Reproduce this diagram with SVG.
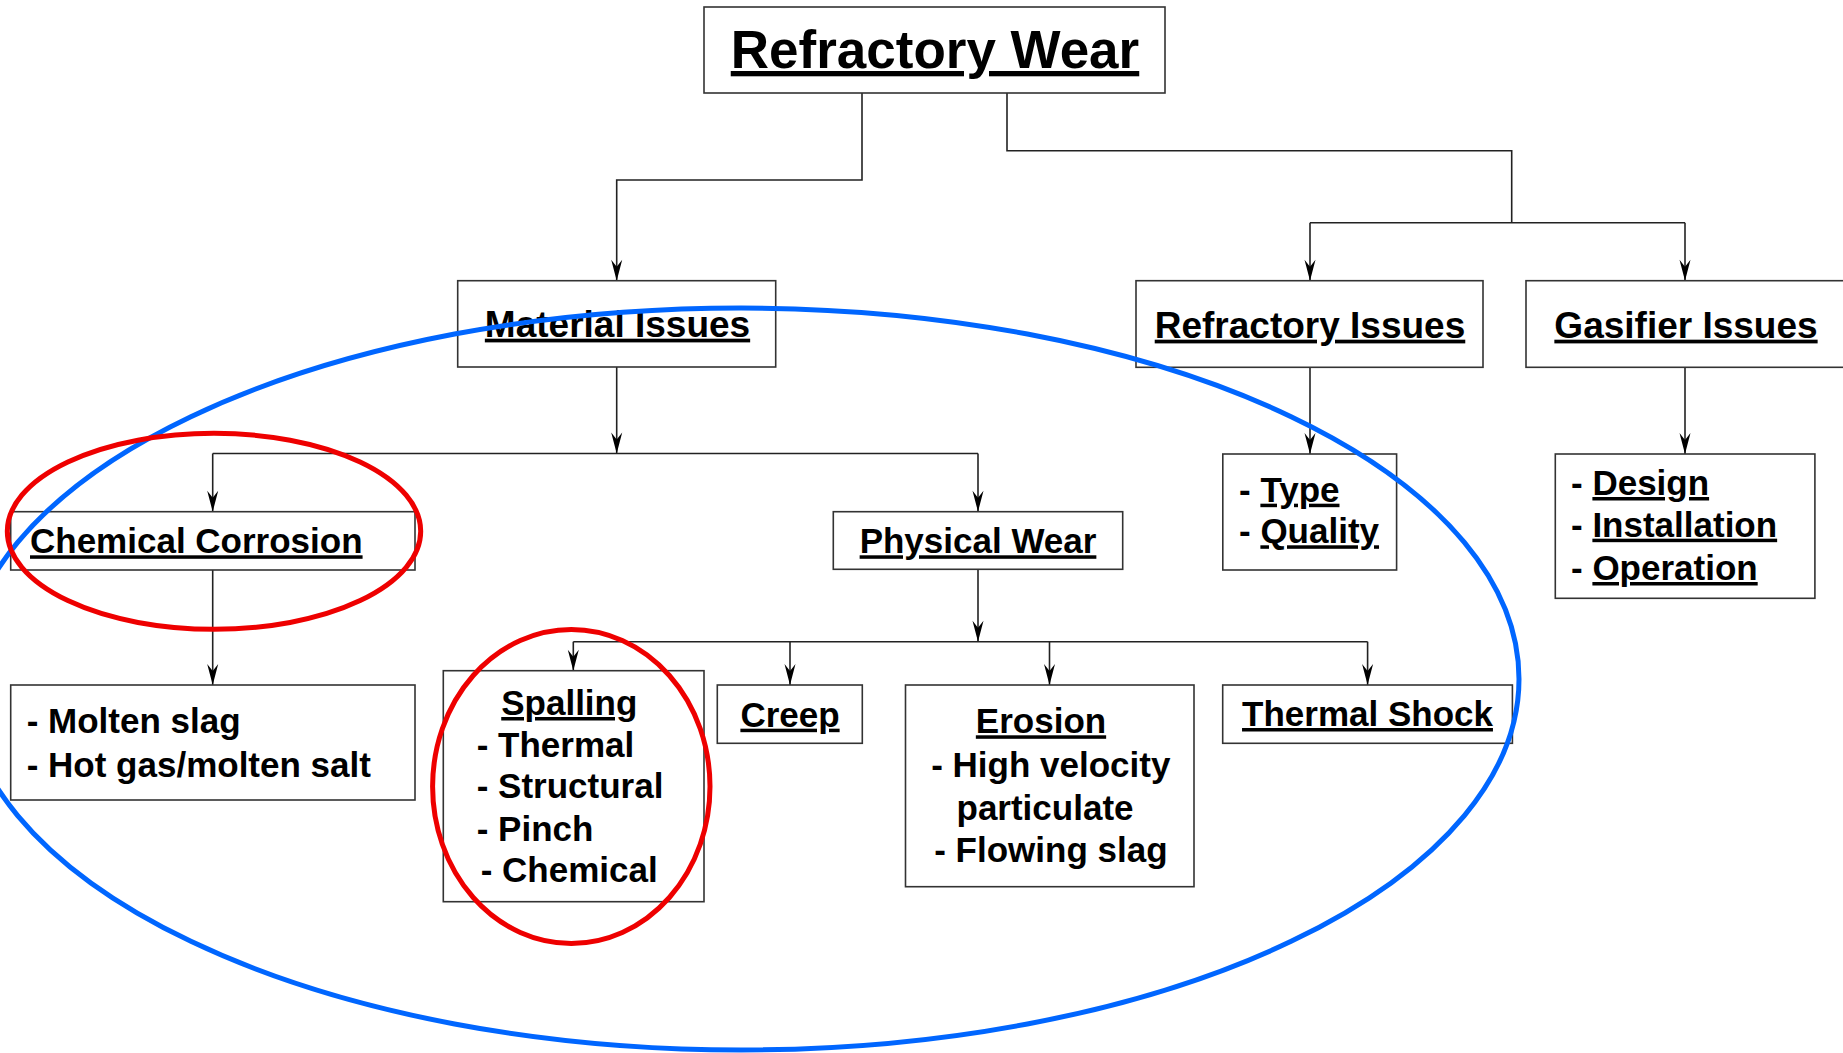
<svg xmlns="http://www.w3.org/2000/svg" width="1843" height="1053" viewBox="0 0 1843 1053">
<style>
.box{fill:#fff;stroke:#333;stroke-width:1.6}
.t{font-family:"Liberation Sans",Arial,sans-serif;font-weight:bold;fill:#000}
.u{text-decoration:underline}
.s35{font-size:35px}
.s37{font-size:37px}
.c{text-anchor:middle}
.con{fill:none;stroke:#222;stroke-width:1.6}
.ring{fill:none;stroke-width:5}
</style>
<defs>
<marker id="ah" markerUnits="userSpaceOnUse" markerWidth="24" markerHeight="14" viewBox="-23 -7 24 14" refX="0" refY="0" orient="auto">
<path d="M0,0 L-21,-5.5 L-14,0 L-21,5.5 Z" fill="#000"/>
</marker>
</defs>
<rect width="1843" height="1053" fill="#fff"/>

<g id="connectors">
<path class="con" d="M862,93 V180 H616.7 V280.7" marker-end="url(#ah)"/>
<path class="con" d="M1007,93 V150.7 H1511.7 V222.7"/>
<path class="con" d="M1310,222.7 H1685"/>
<path class="con" d="M1310,222.7 V280.7" marker-end="url(#ah)"/>
<path class="con" d="M1685,222.7 V280.7" marker-end="url(#ah)"/>
<path class="con" d="M616.7,367 V453.5" marker-end="url(#ah)"/>
<path class="con" d="M212.7,453.5 H978"/>
<path class="con" d="M212.7,453.5 V511.7" marker-end="url(#ah)"/>
<path class="con" d="M978,453.5 V511.7" marker-end="url(#ah)"/>
<path class="con" d="M212.7,570 V685" marker-end="url(#ah)"/>
<path class="con" d="M978,569.3 V641.7" marker-end="url(#ah)"/>
<path class="con" d="M573.3,641.7 H1367.6"/>
<path class="con" d="M573.3,641.7 V670.7" marker-end="url(#ah)"/>
<path class="con" d="M790,641.7 V685" marker-end="url(#ah)"/>
<path class="con" d="M1049.5,641.7 V685" marker-end="url(#ah)"/>
<path class="con" d="M1367.6,641.7 V685" marker-end="url(#ah)"/>
<path class="con" d="M1310,367.3 V454" marker-end="url(#ah)"/>
<path class="con" d="M1685,367.3 V454" marker-end="url(#ah)"/>
</g>

<g id="refractory-wear">
<rect class="box" x="704" y="7" width="461" height="86"/>
<text class="t u c" x="935" y="68" font-size="53">Refractory Wear</text>
</g>

<g id="material-issues">
<rect class="box" x="457.7" y="280.7" width="318" height="86.3"/>
<text class="t u c s37" x="617.5" y="336.7">Material Issues</text>
</g>

<g id="refractory-issues">
<rect class="box" x="1136" y="280.7" width="347" height="86.6"/>
<text class="t u c s37" x="1310" y="337.7">Refractory Issues</text>
</g>

<g id="gasifier-issues">
<rect class="box" x="1526" y="280.7" width="330" height="86.6"/>
<text class="t u c s37" x="1686" y="337.7">Gasifier Issues</text>
</g>

<g id="type-quality">
<rect class="box" x="1222.8" y="454" width="173.8" height="116"/>
<text class="t s35" x="1239" y="501.7">- <tspan class="u">Type</tspan></text>
<text class="t s35" x="1239" y="543.3">- <tspan class="u">Quality</tspan></text>
</g>

<g id="gasifier-items">
<rect class="box" x="1555.3" y="454" width="259.6" height="144.3"/>
<text class="t s35" x="1571" y="495">- <tspan class="u">Design</tspan></text>
<text class="t s35" x="1571" y="536.7">- <tspan class="u">Installation</tspan></text>
<text class="t s35" x="1571" y="580">- <tspan class="u">Operation</tspan></text>
</g>

<g id="chemical-corrosion">
<rect class="box" x="10.7" y="511.7" width="404.3" height="58.3"/>
<text class="t u s35" x="30" y="553.3">Chemical Corrosion</text>
</g>

<g id="physical-wear">
<rect class="box" x="833.3" y="511.7" width="289.4" height="57.6"/>
<text class="t u c s35" x="978" y="553.3">Physical Wear</text>
</g>

<g id="corrosion-items">
<rect class="box" x="10.7" y="685" width="404.3" height="115"/>
<text class="t s35" x="26.7" y="733.3">- Molten slag</text>
<text class="t s35" x="26.7" y="776.7">- Hot gas/molten salt</text>
</g>

<g id="spalling">
<rect class="box" x="443.3" y="670.7" width="260.7" height="231"/>
<text class="t u c s35" x="569.3" y="715">Spalling</text>
<text class="t s35" x="476.7" y="756.7">- Thermal</text>
<text class="t s35" x="476.7" y="798.3">- Structural</text>
<text class="t s35" x="476.7" y="840.7">- Pinch</text>
<text class="t s35" x="480.7" y="881.7">- Chemical</text>
</g>

<g id="creep">
<rect class="box" x="717.3" y="685" width="145" height="58.3"/>
<text class="t u c s35" x="790" y="726.7">Creep</text>
</g>

<g id="erosion">
<rect class="box" x="905.5" y="685" width="288.5" height="201.7"/>
<text class="t u c s35" x="1041" y="733.3">Erosion</text>
<text class="t c s35" x="1050.8" y="776.7">- High velocity</text>
<text class="t c s35" x="1045" y="820">particulate</text>
<text class="t c s35" x="1050.9" y="861.7">- Flowing slag</text>
</g>

<g id="thermal-shock">
<rect class="box" x="1222.7" y="685" width="289.7" height="58.3"/>
<text class="t u c s35" x="1367.5" y="726">Thermal Shock</text>
</g>

<g id="highlights">
<ellipse class="ring" cx="741" cy="679" rx="778" ry="371" stroke="#0066ff"/>
<ellipse class="ring" cx="214" cy="531.3" rx="206.7" ry="98" stroke="#ee0000"/>
<ellipse class="ring" cx="571.3" cy="786.5" rx="138.7" ry="157" stroke="#ee0000"/>
</g>
</svg>
